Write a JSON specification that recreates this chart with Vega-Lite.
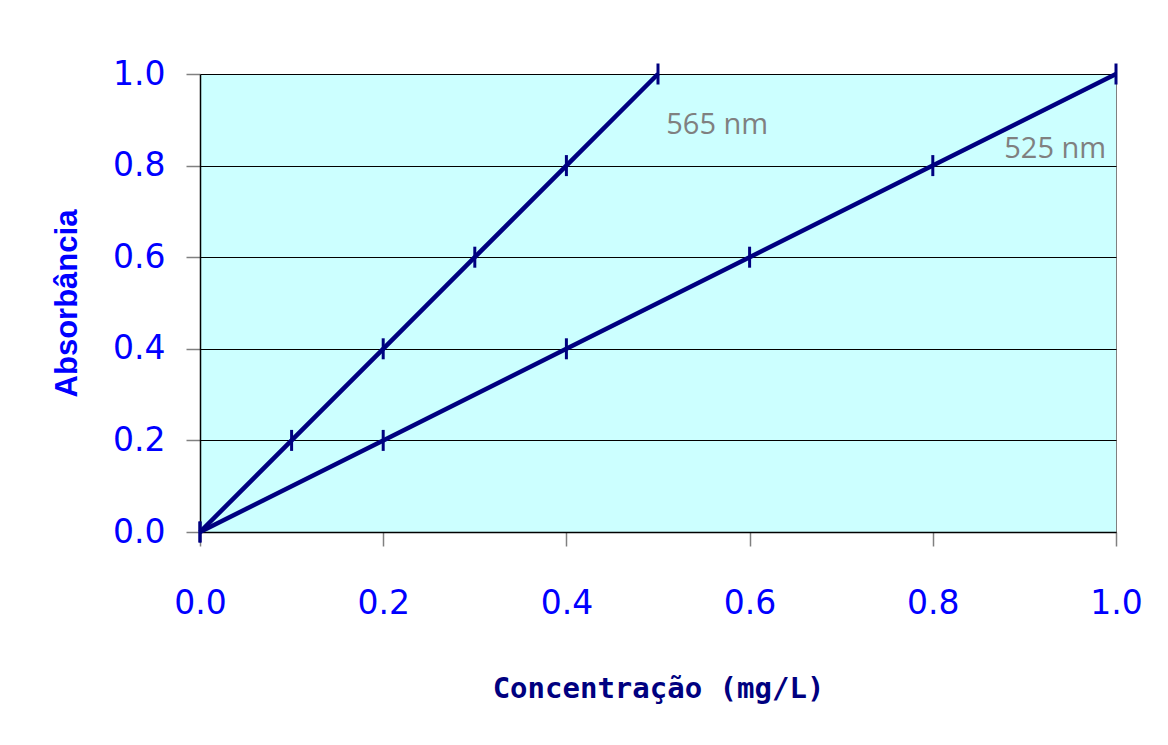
{
  "$schema": "https://vega.github.io/schema/vega-lite/v6.json",
  "autosize": "none",
  "width": 916,
  "height": 458,
  "padding": {"left": 200, "top": 74, "right": 52, "bottom": 213},
  "background": "#ffffff",
  "config": {
    "view": {"fill": "#CCFFFF", "stroke": "#808080", "strokeWidth": 1},
    "axis": {
      "labelFont": "DejaVu Sans",
      "labelFontSize": 33,
      "labelColor": "#0000FF",
      "labelFlush": false,
      "labelOverlap": false,
      "tickColor": "#808080",
      "tickWidth": 1.5,
      "tickSize": 14,
      "domainColor": "#000000",
      "domainWidth": 1.5,
      "gridColor": "#000000",
      "gridWidth": 1,
      "gridOpacity": 1
    }
  },
  "datasets": {
    "points": [
      {"series": "565 nm", "conc": 0.0, "abs": 0.0},
      {"series": "565 nm", "conc": 0.1, "abs": 0.2},
      {"series": "565 nm", "conc": 0.2, "abs": 0.4},
      {"series": "565 nm", "conc": 0.3, "abs": 0.6},
      {"series": "565 nm", "conc": 0.4, "abs": 0.8},
      {"series": "565 nm", "conc": 0.5, "abs": 1.0},
      {"series": "525 nm", "conc": 0.0, "abs": 0.0},
      {"series": "525 nm", "conc": 0.2, "abs": 0.2},
      {"series": "525 nm", "conc": 0.4, "abs": 0.4},
      {"series": "525 nm", "conc": 0.6, "abs": 0.6},
      {"series": "525 nm", "conc": 0.8, "abs": 0.8},
      {"series": "525 nm", "conc": 1.0, "abs": 1.0}
    ],
    "labels": [
      {"label": "565 nm", "conc": 0.509, "abs": 0.869},
      {"label": "525 nm", "conc": 0.878, "abs": 0.817}
    ]
  },
  "encoding": {
    "x": {
      "field": "conc",
      "type": "quantitative",
      "scale": {"domain": [0, 1], "nice": false, "zero": false},
      "axis": {
        "values": [0, 0.2, 0.4, 0.6, 0.8, 1.0],
        "format": ".1f",
        "grid": false,
        "labelBaseline": "middle",
        "labelPadding": 57,
        "title": "Concentração (mg/L)",
        "titleFont": "DejaVu Sans Mono",
        "titleFontWeight": "bold",
        "titleFontSize": 29,
        "titleColor": "#000080",
        "titleBaseline": "alphabetic",
        "titleY": 165
      }
    },
    "y": {
      "field": "abs",
      "type": "quantitative",
      "scale": {"domain": [0, 1], "nice": false, "zero": false},
      "axis": {
        "values": [0, 0.2, 0.4, 0.6, 0.8, 1.0],
        "format": ".1f",
        "grid": true,
        "labelPadding": 21,
        "title": "Absorbância",
        "titleFont": "Liberation Sans",
        "titleFontWeight": "bold",
        "titleFontSize": 31,
        "titleColor": "#0000FF",
        "titleAngle": -90,
        "titleBaseline": "alphabetic",
        "titleX": -124,
        "titleY": 229
      }
    }
  },
  "layer": [
    {
      "data": {"name": "points"},
      "mark": {"type": "line", "color": "#000080", "strokeWidth": 4.5},
      "encoding": {"detail": {"field": "series", "type": "nominal"}}
    },
    {
      "data": {"name": "points"},
      "mark": {"type": "tick", "orient": "vertical", "color": "#000080", "size": 21, "thickness": 3, "opacity": 1}
    },
    {
      "data": {"name": "labels"},
      "mark": {"type": "text", "align": "left", "baseline": "alphabetic", "font": "Open Sans", "fontSize": 29, "color": "#808080"},
      "encoding": {"text": {"field": "label", "type": "nominal"}}
    }
  ]
}
